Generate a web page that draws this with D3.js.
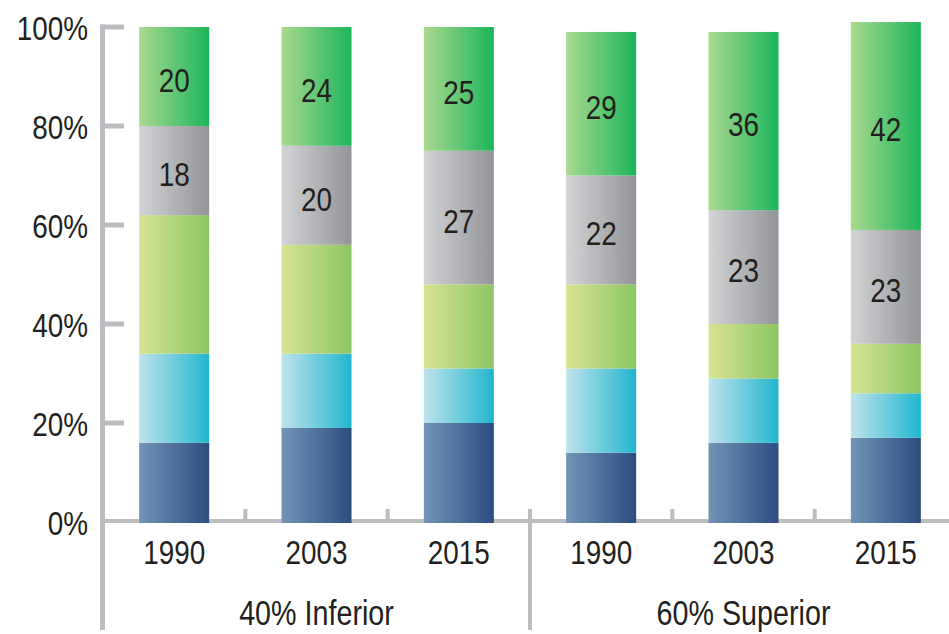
<!DOCTYPE html>
<html>
<head>
<meta charset="utf-8">
<title>stacked bars</title>
<script src="https://cdn.jsdelivr.net/npm/d3@7"></script>
<style>
  body { margin: 0; padding: 0; background: #fff; }
  svg text { font-family: "Liberation Sans", Arial, sans-serif; fill: #231f20; }
</style>
</head>
<body>
<div id="chart"></div>
<script>
  // data (percent shares, bottom to top)
  const years = ["1990", "2003", "2015", "1990", "2003", "2015"]
  const groups = ["40% Inferior", "60% Superior"]
  const darkBlue = [16, 19, 20, 14, 16, 17]
  const lightBlue = [18, 15, 11, 17, 13, 9]
  const lightGreen = [28, 22, 17, 17, 11, 10]
  const gray = [18, 20, 27, 22, 23, 23]
  const green = [20, 24, 25, 29, 36, 42]
  const yTicks = [0, 20, 40, 60, 80, 100]

  const series = [
    { key: "darkBlue", vals: darkBlue, c0: "#7394b8", c1: "#2c4d7e", label: false },
    { key: "lightBlue", vals: lightBlue, c0: "#bfe3ec", c1: "#21b6ce", label: false },
    { key: "lightGreen", vals: lightGreen, c0: "#d7e492", c1: "#8cc663", label: false },
    { key: "gray", vals: gray, c0: "#d3d4d6", c1: "#929497", label: true },
    { key: "green", vals: green, c0: "#aad98f", c1: "#1bb55a", label: true }
  ]

  const width = 949, height = 634
  const sx = 0.82 // condensed look
  const svg = d3.select("#chart").append("svg")
    .attr("width", width).attr("height", height)

  const idx = d3.range(years.length)
  const x = d3.scaleBand().domain(idx).range([103, 957])
    .paddingInner(0.508).paddingOuter(0.254)
  const step = x.step()
  const y = d3.scaleLinear().domain([0, 100]).range([522, 27])

  // narrow text helper
  function place(sel, fx, fy) {
    return sel.attr("transform", (d, i) => `translate(${fx(d, i)},${fy(d, i)}) scale(${sx},1)`)
  }

  // gradients
  const defs = svg.append("defs")
  series.forEach(s => {
    const g = defs.append("linearGradient").attr("id", "g-" + s.key)
      .attr("x1", "0%").attr("x2", "100%").attr("y1", "0%").attr("y2", "0%")
    g.append("stop").attr("offset", "0%").attr("stop-color", s.c0)
    g.append("stop").attr("offset", "100%").attr("stop-color", s.c1)
  })

  const axisCol = "#bcbdc0"

  // y axis line + ticks
  svg.append("line").attr("x1", 102.5).attr("x2", 102.5).attr("y1", 24.5).attr("y2", 630)
    .attr("stroke", axisCol).attr("stroke-width", 5)
  svg.selectAll(".ytick").data(yTicks.filter(d => d > 0)).join("line")
    .attr("x1", 100).attr("x2", 124)
    .attr("y1", d => y(d)).attr("y2", d => y(d))
    .attr("stroke", axisCol).attr("stroke-width", 5)
  place(svg.selectAll(".ylab").data(yTicks).join("text"), () => 88, d => y(d) + 1)
    .attr("dy", "0.36em")
    .attr("text-anchor", "end")
    .attr("font-size", 34)
    .text(d => d + "%")

  // x axis line
  svg.append("line").attr("x1", 100).attr("x2", width).attr("y1", 521).attr("y2", 521)
    .attr("stroke", axisCol).attr("stroke-width", 4)
  // tick marks between bars
  const bounds = d3.range(1, years.length).map(i => x(i) - (step - x.bandwidth()) / 2)
  svg.selectAll(".xtick").data(bounds).join("line")
    .attr("x1", d => d).attr("x2", d => d)
    .attr("y1", 509).attr("y2", (d, i) => i === 2 ? 630 : 521)
    .attr("stroke", axisCol).attr("stroke-width", 4)

  // bars
  const stackData = idx.map(i => {
    const o = {}
    series.forEach(s => o[s.key] = s.vals[i])
    return o
  })
  const stacked = d3.stack().keys(series.map(s => s.key))(stackData)

  const layer = svg.selectAll(".layer").data(stacked).join("g")
    .attr("fill", d => `url(#g-${d.key})`)
  layer.selectAll("rect").data(d => d).join("rect")
    .attr("x", (d, i) => x(i))
    .attr("width", x.bandwidth())
    .attr("y", d => y(d[1]))
    .attr("height", d => y(d[0]) - y(d[1]) + (d[0] === 0 ? 1 : 0))

  // value labels
  stacked.forEach((st, k) => {
    if (!series[k].label) return
    place(svg.append("g").selectAll("text").data(st).join("text"),
      (d, i) => x(i) + x.bandwidth() / 2,
      d => (y(d[0]) + y(d[1])) / 2 + 3)
      .attr("dy", "0.36em")
      .attr("text-anchor", "middle")
      .attr("font-size", 34)
      .text(d => d[1] - d[0])
  })

  // year labels
  place(svg.selectAll(".xlab").data(idx).join("text"),
    i => x(i) + x.bandwidth() / 2, () => 552)
    .attr("dy", "0.36em")
    .attr("text-anchor", "middle")
    .attr("font-size", 34)
    .text(i => years[i])

  // group labels
  place(svg.selectAll(".glab").data(groups).join("text"),
    (d, g) => (x(g * 3) + x(g * 3 + 2) + x.bandwidth()) / 2, () => 612)
    .attr("dy", "0.36em")
    .attr("text-anchor", "middle")
    .attr("font-size", 35)
    .text(d => d)
</script>
</body>
</html>
